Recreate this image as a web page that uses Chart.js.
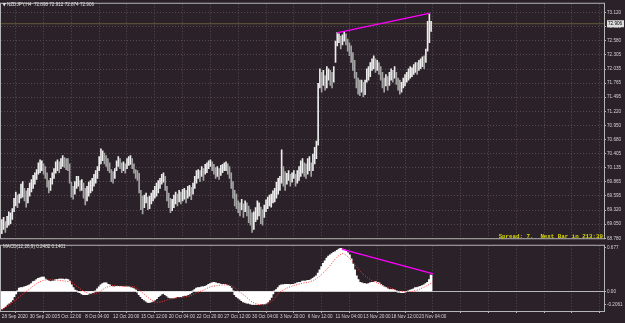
<!DOCTYPE html>
<html lang="en">
<head>
  <meta charset="UTF-8">
  <title>NZDJPY,H4</title>
  <script src="https://cdn.jsdelivr.net/npm/chart.js@4"></script>
  <style>
    html, body { margin: 0; padding: 0; background: #2b2128; overflow: hidden; }
    .wrap { position: relative; width: 625px; height: 323px; }
    #priceChart { position: absolute; left: 0; top: 0; }
    #macdChart { position: absolute; left: 0; top: 242px; }
  </style>
</head>
<body>
  <div class="wrap">
    <canvas id="priceChart" width="625" height="242"></canvas>
    <canvas id="macdChart" width="625" height="81"></canvas>
  </div>

  <script>
    // H4 bars, one entry per bar (28 Sep 2020 -> 24 Nov 2020)
    const lows = [
      68.87, 68.95, 68.89, 68.99, 69.03, 69.06, 69.14, 69.29, 69.40, 69.37,
      69.46, 69.55, 69.57, 69.50, 69.38, 69.46, 69.59, 69.67, 69.74, 69.82,
      69.91, 70.01, 70.04, 70.08, 70.01, 69.93, 69.76, 69.65, 69.70, 69.82,
      69.93, 70.03, 70.08, 70.04, 70.12, 70.16, 70.14, 70.10, 70.08, 69.84,
      69.57, 69.53, 69.63, 69.74, 69.78, 69.69, 69.70, 69.55, 69.42, 69.50,
      69.59, 69.65, 69.69, 69.78, 69.84, 69.93, 70.08, 70.21, 70.27, 70.21,
      70.16, 70.08, 70.04, 69.87, 69.84, 69.93, 70.08, 70.16, 70.12, 70.04,
      70.08, 70.03, 70.12, 70.18, 70.20, 70.12, 70.03, 69.93, 69.89, 69.65,
      69.33, 69.25, 69.37, 69.46, 69.33, 69.35, 69.44, 69.50, 69.55, 69.59,
      69.65, 69.74, 69.82, 69.86, 69.70, 69.50, 69.37, 69.27, 69.31, 69.37,
      69.44, 69.40, 69.48, 69.44, 69.50, 69.53, 69.46, 69.55, 69.59, 69.52,
      69.63, 69.74, 69.84, 69.93, 69.87, 69.97, 69.89, 70.01, 70.04, 70.12,
      70.16, 70.08, 70.01, 69.93, 69.97, 69.91, 69.99, 70.04, 70.08, 70.08,
      70.01, 69.93, 69.74, 69.55, 69.40, 69.35, 69.27, 69.21, 69.33, 69.18,
      69.29, 69.21, 69.08, 69.03, 68.89, 68.95, 69.10, 69.14, 69.21, 69.06,
      69.03, 69.18, 69.29, 69.35, 69.40, 69.38, 69.46, 69.48, 69.55, 69.63,
      69.70, 69.84, 69.78, 69.70, 69.82, 69.89, 69.78, 69.86, 69.93, 69.78,
      69.84, 69.89, 69.97, 70.03, 69.97, 69.93, 70.01, 70.08, 69.97, 70.08,
      70.21, 70.31, 70.57, 71.67, 71.59, 71.72, 71.63, 71.67, 71.82, 71.72,
      71.67, 71.78, 72.16, 72.48, 72.54, 72.42, 72.50, 72.57, 72.50, 72.38,
      72.29, 72.16, 72.01, 71.86, 71.67, 71.55, 71.52, 71.59, 71.50, 71.54,
      71.78, 71.82, 71.89, 72.01, 72.04, 71.97, 72.01, 71.93, 71.82, 71.67,
      71.59, 71.71, 71.63, 71.72, 71.82, 71.78, 71.86, 71.74, 71.63, 71.55,
      71.59, 71.67, 71.71, 71.78, 71.82, 71.86, 71.89, 71.93, 71.97, 71.93,
      72.01, 72.04, 72.08, 72.04, 72.16, 72.38, 72.54, 72.76
    ];
    const highs = [
      69.14, 69.18, 69.10, 69.20, 69.29, 69.27, 69.35, 69.55, 69.67, 69.61,
      69.63, 69.82, 69.87, 69.74, 69.69, 69.74, 69.84, 69.91, 69.99, 70.04,
      70.10, 70.23, 70.29, 70.27, 70.21, 70.16, 70.04, 69.89, 69.93, 70.04,
      70.12, 70.25, 70.29, 70.25, 70.31, 70.37, 70.33, 70.31, 70.31, 70.21,
      69.86, 69.78, 69.87, 69.97, 69.97, 69.89, 69.91, 69.84, 69.74, 69.78,
      69.86, 69.89, 69.93, 70.01, 70.08, 70.16, 70.35, 70.50, 70.46, 70.42,
      70.37, 70.31, 70.23, 70.10, 70.06, 70.12, 70.27, 70.35, 70.31, 70.23,
      70.25, 70.21, 70.31, 70.35, 70.37, 70.31, 70.21, 70.10, 70.08, 70.03,
      69.70, 69.59, 69.61, 69.65, 69.57, 69.59, 69.65, 69.70, 69.78, 69.84,
      69.89, 69.93, 70.01, 70.04, 69.97, 69.78, 69.65, 69.55, 69.53, 69.61,
      69.67, 69.63, 69.70, 69.67, 69.72, 69.74, 69.70, 69.78, 69.80, 69.76,
      69.84, 69.97, 70.08, 70.10, 70.08, 70.16, 70.12, 70.20, 70.23, 70.27,
      70.29, 70.25, 70.20, 70.14, 70.16, 70.12, 70.18, 70.20, 70.23, 70.25,
      70.21, 70.16, 70.04, 69.87, 69.70, 69.63, 69.50, 69.46, 69.53, 69.44,
      69.50, 69.46, 69.40, 69.33, 69.27, 69.29, 69.37, 69.50, 69.46, 69.38,
      69.33, 69.42, 69.52, 69.57, 69.61, 69.63, 69.69, 69.74, 69.86, 69.93,
      69.97, 70.48, 70.16, 70.06, 70.03, 70.08, 70.01, 70.04, 70.08, 70.01,
      70.08, 70.16, 70.27, 70.31, 70.23, 70.21, 70.31, 70.35, 70.23, 70.40,
      70.53, 70.65, 71.76, 72.04, 71.97, 72.01, 71.91, 72.08, 72.04, 72.01,
      71.97, 72.08, 72.57, 72.74, 72.71, 72.67, 72.69, 72.76, 72.71, 72.61,
      72.54, 72.48, 72.35, 72.20, 71.97, 71.86, 71.82, 71.82, 71.78, 71.82,
      72.04, 72.08, 72.16, 72.23, 72.29, 72.23, 72.20, 72.16, 72.08, 71.97,
      71.86, 71.93, 71.89, 71.97, 72.04, 72.01, 72.08, 71.97, 71.86, 71.82,
      71.78, 71.86, 71.93, 71.97, 72.04, 72.08, 72.06, 72.12, 72.16, 72.16,
      72.20, 72.23, 72.27, 72.29, 72.42, 72.95, 73.10, 72.95
    ];

    // MACD(12,26,9) main line, drawn as histogram, one per bar
    const macdHist = [
      -0.27, -0.25, -0.23, -0.20, -0.18, -0.16, -0.13, -0.08, -0.04, 0.01,
      0.05, 0.06, 0.06, 0.07, 0.08, 0.09, 0.10, 0.12, 0.15, 0.16,
      0.18, 0.20, 0.21, 0.22, 0.22, 0.19, 0.17, 0.16, 0.15, 0.16,
      0.16, 0.18, 0.18, 0.19, 0.19, 0.19, 0.18, 0.19, 0.18, 0.16,
      0.10, 0.06, 0.02, 0.01, -0.01, -0.02, -0.04, -0.05, -0.05, -0.05,
      -0.04, -0.03, -0.02, -0.01, 0.01, 0.04, 0.07, 0.10, 0.12, 0.13,
      0.13, 0.11, 0.10, 0.08, 0.07, 0.07, 0.08, 0.08, 0.08, 0.08,
      0.07, 0.07, 0.07, 0.07, 0.06, 0.05, 0.04, 0.02, -0.01, -0.05,
      -0.08, -0.11, -0.13, -0.15, -0.17, -0.17, -0.16, -0.15, -0.13, -0.11,
      -0.08, -0.06, -0.04, -0.03, -0.05, -0.07, -0.09, -0.10, -0.10, -0.10,
      -0.09, -0.08, -0.08, -0.08, -0.07, -0.06, -0.06, -0.05, -0.04, -0.02,
      0.01, 0.03, 0.05, 0.06, 0.06, 0.07, 0.07, 0.08, 0.09, 0.11,
      0.12, 0.13, 0.14, 0.13, 0.12, 0.12, 0.11, 0.11, 0.11, 0.10,
      0.09, 0.08, 0.05, 0.01, -0.05, -0.08, -0.10, -0.12, -0.14, -0.16,
      -0.17, -0.18, -0.18, -0.19, -0.20, -0.20, -0.20, -0.20, -0.20, -0.19,
      -0.19, -0.19, -0.18, -0.16, -0.13, -0.09, -0.04, 0.01, 0.03, 0.06,
      0.09, 0.10, 0.10, 0.11, 0.11, 0.11, 0.10, 0.11, 0.11, 0.12,
      0.13, 0.14, 0.14, 0.16, 0.16, 0.16, 0.17, 0.17, 0.18, 0.20,
      0.22, 0.24, 0.28, 0.33, 0.38, 0.43, 0.47, 0.51, 0.54, 0.56,
      0.58, 0.60, 0.61, 0.63, 0.65, 0.66, 0.65, 0.64, 0.62, 0.59,
      0.56, 0.50, 0.42, 0.33, 0.24, 0.18, 0.14, 0.13, 0.12, 0.12,
      0.11, 0.12, 0.13, 0.14, 0.14, 0.15, 0.14, 0.13, 0.11, 0.09,
      0.07, 0.06, 0.04, 0.03, 0.03, 0.03, 0.02, 0.01, -0.01, -0.01,
      -0.02, -0.02, -0.01, 0.00, 0.01, 0.02, 0.03, 0.04, 0.06, 0.06,
      0.07, 0.08, 0.09, 0.10, 0.12, 0.14, 0.18, 0.25
    ];

    // signal line, read every 4th bar
    const signalStep = 4;
    const macdSignal = [
      -0.28, -0.21, -0.13, -0.04, 0.04, 0.12, 0.17, 0.18, 0.17, 0.16,
      0.14, 0.06, -0.01, -0.04, -0.01, 0.06, 0.09, 0.08, 0.08, 0.07,
      0.00, -0.09, -0.16, -0.16, -0.12, -0.10, -0.09, -0.07, -0.02, 0.02,
      0.07, 0.09, 0.10, 0.09, 0.01, -0.07, -0.16, -0.20, -0.20, -0.13,
      -0.01, 0.05, 0.09, 0.12, 0.14, 0.18, 0.26, 0.37, 0.50, 0.58,
      0.51, 0.38, 0.26, 0.18, 0.13, 0.08, 0.05, 0.01, 0.00, 0.00,
      0.03, 0.08, 0.14
    ];

    // hand drawn trend lines (bar index, value)
    const priceTrendBars = [192.8, 246.4];
    const priceTrendVals = [72.73, 73.11];
    const macdTrendBars = [195.6, 248.3];
    const macdTrendVals = [0.65, 0.27];

    const bidPrice = 72.906;
    const priceTicks = [73.120, 72.850, 72.580, 72.305, 72.035, 71.765, 71.495, 71.220,
      70.950, 70.680, 70.405, 70.135, 69.865, 69.595, 69.320, 69.050, 68.780];
    const macdTicks = [0.677, 0, -0.2061];
    const macdTickLabels = ['0.677', '0.00', '-0.2061'];
    const dateTicks = ['28 Sep 2020', '30 Sep 20:00', '5 Oct 12:00', '8 Oct 04:00', '12 Oct 20:00',
      '15 Oct 12:00', '20 Oct 04:00', '22 Oct 20:00', '27 Oct 12:00', '30 Oct 04:00', '3 Nov 20:00',
      '6 Nov 12:00', '11 Nov 04:00', '13 Nov 20:00', '18 Nov 12:00', '23 Nov 04:00'];
    const barsPerLabel = 16;

    // ---- layout / style ----
    const X_MIN = -0.5, X_MAX = 346.5;
    const gridBars = [];
    for (let v = 0; v <= X_MAX; v += barsPerLabel) gridBars.push(v);

    const txtColor = '#d4d4d4';
    const gridColor = '#574b53';
    const frameColor = '#b5b5b5';
    const smallFont = { family: 'Liberation Sans', size: 4.6 };

    Chart.defaults.font.family = 'Liberation Sans';

    const framePlugin = {
      id: 'frame',
      afterDraw(chart) {
        const { ctx, chartArea: a } = chart;
        ctx.save();
        ctx.strokeStyle = frameColor;
        ctx.lineWidth = 1;
        ctx.strokeRect(a.left - 0.5, a.top - 0.5, a.right - a.left + 1, a.bottom - a.top + 1);
        ctx.restore();
      }
    };

    const priceOverlay = {
      id: 'priceOverlay',
      afterDraw(chart) {
        const { ctx, chartArea: a } = chart;
        const py = chart.scales.y.getPixelForValue(bidPrice);
        ctx.save();
        // current price box
        ctx.fillStyle = '#dedede';
        ctx.fillRect(a.right + 3, py - 3.5, 17, 7);
        ctx.fillStyle = '#000';
        ctx.font = '4.6px "Liberation Sans"';
        ctx.textBaseline = 'middle';
        ctx.fillText(bidPrice.toFixed(3), a.right + 4, py);
        // header
        ctx.fillStyle = '#e0e0e0';
        ctx.font = '4.5px "DejaVu Sans"';
        ctx.fillText('\u25BC', 2.5, 5);
        ctx.font = '4.6px "Liberation Sans"';
        ctx.fillText('NZDJPY,H4  72.898 72.912 72.874 72.906', 7, 5);
        // info text
        ctx.fillStyle = '#d8d800';
        ctx.font = 'bold 5.8px "Liberation Mono"';
        ctx.textAlign = 'right';
        ctx.fillText('Spread: 7.  Next Bar in 213:39', a.right - 1, 237);
        ctx.restore();
      }
    };

    const macdOverlay = {
      id: 'macdOverlay',
      afterDraw(chart) {
        const { ctx } = chart;
        ctx.save();
        ctx.fillStyle = '#e0e0e0';
        ctx.font = '4.6px "Liberation Sans"';
        ctx.textBaseline = 'middle';
        ctx.fillText('MACD(12,26,9) 0.2482 0.1401', 3, 4.5);
        ctx.restore();
      }
    };

    const barData = highs.map((h, i) => ({ x: i, y: [lows[i], h] }));
    const barColor = ctx => {
      const i = ctx.dataIndex;
      if (i === 0) return '#e6e6e6';
      const mid = (lows[i] + highs[i]) / 2, prev = (lows[i - 1] + highs[i - 1]) / 2;
      return mid >= prev ? '#ececec' : '#a4a4a4';
    };

    new Chart(document.getElementById('priceChart'), {
      type: 'bar',
      data: {
        datasets: [
          {
            type: 'line',
            data: [{ x: X_MIN, y: bidPrice }, { x: X_MAX, y: bidPrice }],
            borderColor: 'rgba(150,140,80,0.55)',
            borderWidth: 1,
            pointRadius: 0,
            order: 3
          },
          {
            type: 'bar',
            data: barData,
            backgroundColor: barColor,
            barThickness: 1,
            grouped: false,
            order: 2
          },
          {
            type: 'line',
            data: priceTrendBars.map((b, i) => ({ x: b, y: priceTrendVals[i] })),
            borderColor: '#ff00ff',
            borderWidth: 1.3,
            pointRadius: 0,
            order: 1
          }
        ]
      },
      options: {
        responsive: false,
        animation: false,
        events: [],
        layout: { padding: { left: 1, top: 2, right: 0, bottom: 1 } },
        plugins: { legend: { display: false }, tooltip: { enabled: false } },
        scales: {
          x: {
            type: 'linear', min: X_MIN, max: X_MAX, offset: false,
            afterBuildTicks: s => { s.ticks = gridBars.map(v => ({ value: v })); },
            ticks: { display: false },
            grid: { color: gridColor, drawTicks: false },
            border: { display: false, dash: [1, 2] },
            afterFit: s => { s.height = 0; }
          },
          y: {
            position: 'right', min: 68.78, max: 73.29,
            afterBuildTicks: s => { s.ticks = priceTicks.map(v => ({ value: v })); },
            ticks: { color: txtColor, font: smallFont, padding: 1, callback: v => v.toFixed(3) },
            grid: { color: gridColor, drawTicks: true, tickLength: 2, tickColor: frameColor },
            border: { display: false, dash: [1, 2] },
            afterFit: s => { s.width = 21; }
          }
        }
      },
      plugins: [framePlugin, priceOverlay]
    });

    new Chart(document.getElementById('macdChart'), {
      type: 'bar',
      data: {
        datasets: [
          {
            type: 'line',
            data: macdTrendBars.map((b, i) => ({ x: b, y: macdTrendVals[i] })),
            borderColor: '#ff00ff',
            borderWidth: 1.3,
            pointRadius: 0,
            order: 1
          },
          {
            type: 'line',
            data: macdSignal.map((v, i) => ({ x: i * signalStep, y: v })),
            borderColor: '#ff3b3b',
            borderWidth: 1,
            borderDash: [1, 1.5],
            pointRadius: 0,
            tension: 0.3,
            order: 2
          },
          {
            type: 'bar',
            data: macdHist.map((v, i) => ({ x: i, y: v })),
            backgroundColor: '#ffffff',
            barThickness: 2,
            grouped: false,
            order: 3
          }
        ]
      },
      options: {
        responsive: false,
        animation: false,
        events: [],
        layout: { padding: { left: 1, top: 1, right: 0, bottom: 0 } },
        plugins: { legend: { display: false }, tooltip: { enabled: false } },
        scales: {
          x: {
            type: 'linear', min: X_MIN, max: X_MAX, offset: false,
            afterBuildTicks: s => { s.ticks = gridBars.map(v => ({ value: v })); },
            ticks: {
              color: txtColor, font: smallFont, align: 'start', autoSkip: false,
              maxRotation: 0, minRotation: 0, padding: 1,
              callback: (v, i) => dateTicks[i] || ''
            },
            grid: { color: gridColor, drawTicks: true, tickLength: 2, tickColor: frameColor },
            border: { display: false, dash: [1, 2] },
            afterFit: s => { s.height = 12; }
          },
          y: {
            position: 'right', min: -0.30, max: 0.70,
            afterBuildTicks: s => { s.ticks = macdTicks.map(v => ({ value: v })); },
            ticks: {
              color: txtColor, font: smallFont, padding: 1,
              callback: v => macdTickLabels[macdTicks.indexOf(v)]
            },
            grid: {
              color: c => (c.tick && c.tick.value === 0) ? '#b8b8b8' : 'rgba(0,0,0,0)',
              drawTicks: true, tickLength: 2, tickColor: frameColor
            },
            border: { display: false },
            afterFit: s => { s.width = 21; }
          }
        }
      },
      plugins: [framePlugin, macdOverlay]
    });
  </script>
</body>
</html>
